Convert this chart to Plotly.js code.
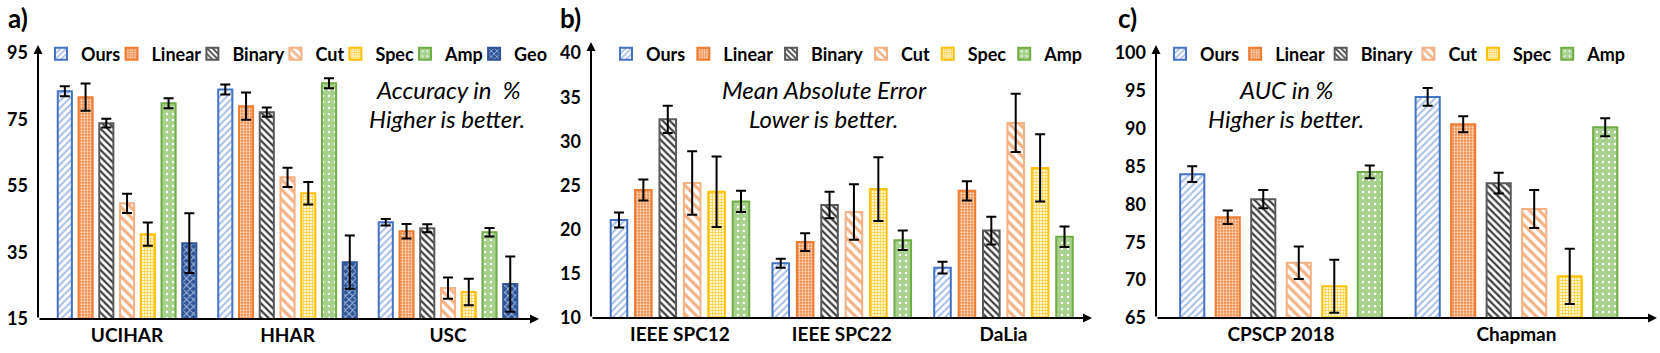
<!DOCTYPE html>
<html>
<head>
<meta charset="utf-8">
<script src="https://cdn.plot.ly/plotly-3.0.1.min.js"></script>
<style>
  html, body { margin: 0; padding: 0; background: #fff; }
  #chart { width: 1660px; height: 353px; }
</style>
</head>
<body>
<div id="chart"></div>
<script>
var seriesNames = ['Ours', 'Linear', 'Binary', 'Cut', 'Spec', 'Amp', 'Geo'];

// a) HAR datasets, accuracy in % (one row per series, one value per dataset)
var catsA = ['UCIHAR', 'HHAR', 'USC'];
var meanA = [
  [83.5, 84.0, 44.1],
  [81.7, 79.0, 41.4],
  [73.9, 77.2, 42.3],
  [49.8, 57.6, 24.3],
  [40.5, 52.8, 23.1],
  [79.9, 85.9, 41.1],
  [37.8, 32.1, 25.5]
];
var errA = [
  [1.5, 1.5, 1.0],
  [4.1, 4.1, 2.2],
  [1.3, 1.4, 1.2],
  [2.9, 2.9, 3.2],
  [3.5, 3.4, 4.0],
  [1.5, 1.5, 1.3],
  [9.0, 8.0, 8.3]
];

// b) heart rate datasets, mean absolute error
var catsB = ['IEEE SPC12', 'IEEE SPC22', 'DaLia'];
var meanB = [
  [21.1, 16.2, 15.7],
  [24.5, 18.6, 24.4],
  [32.5, 22.8, 19.9],
  [25.3, 22.0, 32.1],
  [24.3, 24.6, 27.0],
  [23.2, 18.8, 19.2]
];
var errB = [
  [0.85, 0.5, 0.66],
  [1.2, 1.0, 1.1],
  [1.55, 1.5, 1.57],
  [3.6, 3.15, 3.3],
  [4.0, 3.6, 3.8],
  [1.2, 1.1, 1.17]
];

// c) ECG datasets, AUC in %
var catsC = ['CPSCP 2018', 'Chapman'];
var meanC = [
  [84.0, 94.2],
  [78.3, 90.6],
  [80.7, 82.8],
  [72.3, 79.4],
  [69.2, 70.5],
  [84.3, 90.2]
];
var errC = [
  [1.05, 1.17],
  [0.9, 1.05],
  [1.2, 1.37],
  [2.15, 2.5],
  [3.5, 3.65],
  [0.85, 1.2]
];

var W = 1660, H = 353;
var FONT = 'Lato, "Open Sans", sans-serif';
var LEG_SIZE = 18;

var looks = [
  {line: '#4472C4', shape: '/',  fg: '#A4BDE8', bg: '#ffffff', size: 5, sol: 0.4},
  {line: '#ED7D31', shape: '.',  fg: '#FCD9C0', bg: '#EF8A45', size: 3, sol: 0.45},
  {line: '#595959', shape: '\\', fg: '#3F3F3F', bg: '#ffffff', size: 5, sol: 0.45},
  {line: '#F4B183', shape: '\\', fg: '#F4B183', bg: '#ffffff', size: 7, sol: 0.45},
  {line: '#FFC000', shape: '+',  fg: '#FFD24A', bg: '#FFF6D6', size: 3, sol: 0.5},
  {line: '#70AD47', shape: '.',  fg: '#ffffff', bg: '#A9D18E', size: 6, sol: 0.14},
  {line: '#2F5597', shape: 'x',  fg: '#A9BCE0', bg: '#2F5597', size: 5, sol: 0.35}
];

// legend text widths, so the entries can be packed like the original
var ctx = document.createElement('canvas').getContext('2d');
ctx.font = 'bold ' + LEG_SIZE + 'px Lato';
function textW(s) { return ctx.measureText(s).width; }

function gapFor(n, span) {
  var sum = 0;
  for (var i = 0; i < n; i++) sum += textW(seriesNames[i]);
  return (span - 26 - 26 * (n - 1) - sum) / (n - 1);
}

var panels = [
  {cats: catsA, mean: meanA, err: errA, xa: 'x',  ya: 'y',  lg: 'legend',  span: 492},
  {cats: catsB, mean: meanB, err: errB, xa: 'x2', ya: 'y2', lg: 'legend2', span: 462},
  {cats: catsC, mean: meanC, err: errC, xa: 'x3', ya: 'y3', lg: 'legend3', span: 451}
];

var data = [];
panels.forEach(function(p) {
  var n = p.mean.length;
  var g = gapFor(n, p.span);
  p.mean.forEach(function(vals, i) {
    var lk = looks[i];
    var tw = textW(seriesNames[i]);
    data.push({
      type: 'bar',
      name: seriesNames[i],
      x: p.cats,
      y: vals,
      xaxis: p.xa,
      yaxis: p.ya,
      legend: p.lg,
      legendwidth: i === n - 1 ? tw + 4 : Math.max(0, tw + g - 19),
      marker: {
        color: lk.bg,
        line: {color: lk.line, width: 2},
        pattern: {shape: lk.shape, fgcolor: lk.fg, bgcolor: lk.bg, size: lk.size, solidity: lk.sol, fillmode: 'replace'}
      },
      error_y: {type: 'data', array: p.err[i], visible: true, color: '#000', thickness: 2, width: 5}
    });
  });
});

function px2x(px) { return px / W; }
function px2y(py) { return 1 - py / H; }

function yAxis(dom, range, dtick, xa) {
  return {
    domain: dom, range: range, dtick: dtick, tick0: range[0], anchor: xa,
    showgrid: false, zeroline: false, showline: false, ticks: '',
    ticklabelstandoff: 9,
    tickfont: {family: FONT, size: 18, color: '#000', weight: 'bold'}
  };
}
function xAxis(dom, range, ya) {
  return {
    domain: dom, range: range, anchor: ya,
    showgrid: false, zeroline: false, showline: false, ticks: '',
    ticklabelstandoff: 3,
    tickfont: {family: FONT, size: 19, color: '#000', weight: 'bold'}
  };
}
function legendAt(symLeft) {
  return {
    orientation: 'h', x: px2x(symLeft - 14), xanchor: 'left',
    y: px2y(54), yanchor: 'middle', bgcolor: 'rgba(0,0,0,0)',
    font: {family: FONT, size: LEG_SIZE, color: '#000', weight: 'bold'}
  };
}

function axisArrows(xa, ya, wPx, hPx) {
  var base = {
    xref: xa + ' domain', yref: ya + ' domain', text: '', showarrow: true,
    arrowhead: 2, arrowsize: 0.9, arrowwidth: 2, arrowcolor: '#000', standoff: 0
  };
  return [
    Object.assign({}, base, {x: 0, y: 1, ax: 0, ay: hPx}),
    Object.assign({}, base, {x: 1, y: 0, ax: -wPx, ay: 0})
  ];
}

// italic comments, one annotation per line
function note(text, cx, cy) {
  return {
    xref: 'paper', yref: 'paper', x: px2x(cx), y: px2y(cy),
    xanchor: 'center', yanchor: 'middle', showarrow: false,
    text: text,
    font: {family: FONT, size: 24, color: '#000', style: 'italic', weight: 400}
  };
}
function tag(t, x) {
  return {
    xref: 'paper', yref: 'paper', x: px2x(x), y: px2y(18),
    xanchor: 'left', yanchor: 'middle', showarrow: false,
    text: '<b>' + t + '</b>',
    font: {family: FONT, size: 26, color: '#000'}
  };
}

var annotations = []
  .concat(axisArrows('x', 'y', 501, 274))
  .concat(axisArrows('x2', 'y2', 501, 276))
  .concat(axisArrows('x3', 'y3', 501, 273))
  .concat([
    note('Accuracy in  %', 448, 89), note('Higher is better.', 447, 118),
    note('Mean Absolute Error', 824, 89), note('Lower is better.', 823, 118),
    note('AUC in %', 1286, 89), note('Higher is better.', 1286, 118),
    tag('a)', 6), tag('b)', 558), tag('c)', 1116)
  ]);

var layout = {
  width: W, height: H, autosize: false,
  margin: {l: 0, r: 0, t: 0, b: 0},
  paper_bgcolor: '#fff', plot_bgcolor: 'rgba(0,0,0,0)',
  font: {family: FONT, color: '#000'},
  barmode: 'group', bargap: 0.095, bargroupgap: 0.32,
  xaxis:  xAxis([px2x(38), px2x(539)], [-0.555, 2.567], 'y'),
  yaxis:  yAxis([px2y(319), px2y(45)], [15, 97.4], 20, 'x'),
  xaxis2: xAxis([px2x(591), px2x(1092)], [-0.55, 2.547], 'y2'),
  yaxis2: yAxis([px2y(318), px2y(42)], [10, 41.26], 5, 'x2'),
  xaxis3: xAxis([px2x(1156), px2x(1657)], [-0.531, 1.597], 'y3'),
  yaxis3: yAxis([px2y(318), px2y(45)], [65, 101.06], 5, 'x3'),
  legend: legendAt(55),
  legend2: legendAt(620),
  legend3: legendAt(1174),
  annotations: annotations,
  hovermode: false
};

Plotly.newPlot('chart', data, layout, {staticPlot: true, displayModeBar: false});
</script>
</body>
</html>
